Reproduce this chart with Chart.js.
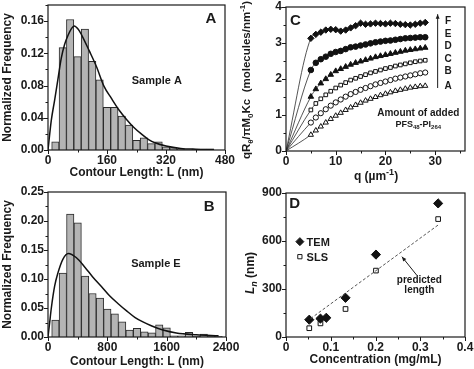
<!DOCTYPE html>
<html>
<head>
<meta charset="utf-8">
<script src="https://cdn.jsdelivr.net/npm/chart.js@4.4.1/dist/chart.umd.min.js"></script>
<style>
  html, body { margin: 0; padding: 0; background: #fff; }
  #wrap { position: relative; width: 474px; height: 369px; overflow: hidden; }
  canvas { position: absolute; }
</style>
</head>
<body>
<div id="wrap">
  <canvas id="chartA" width="250" height="185" style="left:0;top:0"></canvas>
  <canvas id="chartB" width="250" height="184" style="left:0;top:185px"></canvas>
  <canvas id="chartC" width="237" height="185" style="left:237px;top:0"></canvas>
  <canvas id="chartD" width="237" height="184" style="left:237px;top:185px"></canvas>
</div>
<script>
// Panel A: contour length histogram, sample A (20 nm bins)
const binsA = [20, 40, 60, 80, 100, 120, 140, 160, 180, 200, 220, 240, 260, 280, 300, 320, 340, 360, 380, 400, 420, 440];
const freqA = [0.010, 0.127, 0.162, 0.116, 0.150, 0.110, 0.087, 0.053, 0.053, 0.042, 0.031, 0.012, 0.015, 0.008, 0.010, 0.004, 0.003, 0.001, 0.000, 0.001, 0.001, 0.001];
const fitAx = [0, 9, 18, 28, 36, 45, 55, 64, 71, 82, 91, 112, 131, 152, 172, 192, 213, 233, 253, 273, 290, 320, 360, 400, 450];
const fitAy = [0, 0.037, 0.062, 0.091, 0.114, 0.131, 0.143, 0.151, 0.154, 0.150, 0.143, 0.123, 0.104, 0.079, 0.064, 0.050, 0.038, 0.028, 0.020, 0.013, 0.009, 0.005, 0.002, 0.001, 0.0005];

// Panel B: contour length histogram, sample E (100 nm bins)
const binsB = [100, 200, 300, 400, 500, 600, 700, 800, 900, 1000, 1100, 1200, 1300, 1400, 1500, 1600, 1700, 1800, 1900, 2000, 2100, 2200, 2300];
const freqB = [0.029, 0.110, 0.212, 0.197, 0.105, 0.075, 0.067, 0.048, 0.040, 0.026, 0.012, 0.015, 0.009, 0.007, 0.021, 0.016, 0.002, 0.002, 0.008, 0.001, 0.005, 0.001, 0.001];
const fitBx = [0, 20, 45, 90, 135, 200, 275, 380, 500, 600, 720, 830, 950, 1060, 1170, 1280, 1400, 1550, 1730, 2000, 2300];
const fitBy = [0, 0.022, 0.050, 0.088, 0.111, 0.134, 0.144, 0.137, 0.120, 0.104, 0.087, 0.071, 0.057, 0.045, 0.034, 0.026, 0.019, 0.012, 0.007, 0.004, 0.002];

// Panel C: light scattering, samples A-F
const qValues = [5, 6, 7, 8, 9, 10, 11, 12, 13, 14, 15, 16, 17, 18, 19, 20, 21, 22, 23, 24, 25, 26, 27, 28];
const scatF = [3.13, 3.24, 3.30, 3.36, 3.38, 3.37, 3.33, 3.36, 3.42, 3.48, 3.55, 3.52, 3.53, 3.55, 3.54, 3.53, 3.55, 3.54, 3.52, 3.51, 3.50, 3.52, 3.55, 3.57];
const scatE = [2.25, 2.45, 2.55, 2.62, 2.70, 2.75, 2.78, 2.83, 2.88, 2.90, 2.93, 2.96, 2.99, 3.02, 3.04, 3.06, 3.07, 3.09, 3.11, 3.13, 3.14, 3.15, 3.16, 3.16];
const scatD = [1.51, 1.72, 1.88, 2.00, 2.12, 2.22, 2.28, 2.34, 2.40, 2.45, 2.49, 2.53, 2.57, 2.61, 2.64, 2.67, 2.70, 2.73, 2.76, 2.79, 2.81, 2.83, 2.85, 2.87];
const scatC = [1.14, 1.32, 1.45, 1.56, 1.66, 1.75, 1.83, 1.90, 1.97, 2.02, 2.07, 2.12, 2.17, 2.21, 2.25, 2.29, 2.32, 2.36, 2.39, 2.42, 2.45, 2.48, 2.50, 2.52];
const scatB = [0.79, 0.93, 1.05, 1.16, 1.26, 1.35, 1.43, 1.51, 1.58, 1.64, 1.70, 1.75, 1.80, 1.85, 1.89, 1.93, 1.97, 2.01, 2.04, 2.07, 2.10, 2.13, 2.16, 2.18];
const scatA = [0.45, 0.57, 0.68, 0.79, 0.89, 0.98, 1.06, 1.14, 1.21, 1.28, 1.34, 1.40, 1.45, 1.50, 1.55, 1.59, 1.63, 1.67, 1.70, 1.73, 1.76, 1.78, 1.80, 1.81];

// Panel D: length vs concentration
const concTEM = [0.052, 0.077, 0.090, 0.133, 0.201, 0.340];
const lenTEM = [108, 115, 120, 245, 515, 835];
const concSLS = [0.052, 0.077, 0.133, 0.201, 0.340];
const lenSLS = [55, 85, 175, 415, 737];
const predConc = [0.055, 0.340];
const predLen = [115, 700];

const FONT = "'Liberation Sans', Arial, Helvetica, sans-serif";
Chart.defaults.font.family = FONT;
Chart.defaults.font.size = 12;
Chart.defaults.font.weight = 'bold';
Chart.defaults.color = '#1a1a1a';
Chart.defaults.animation = false;

const pts = (xs, ys) => xs.map((x, i) => ({ x, y: ys[i] }));

function isMultiple(v, step) {
  const r = v / step;
  return Math.abs(r - Math.round(r)) < 1e-6;
}

function axis(min, max, step, major, fmt, size, horizontal) {
  return {
    type: 'linear', min, max, offset: false,
    afterFit: s => {
      if (horizontal) s.height = size; else s.width = size;
      s.paddingLeft = s.paddingRight = s.paddingTop = s.paddingBottom = 0;
    },
    grid: { display: false, drawTicks: false, offset: false },
    border: { display: false },
    ticks: {
      stepSize: step, autoSkip: false, maxRotation: 0, includeBounds: false,
      padding: horizontal ? 3 : 4,
      callback: v => isMultiple(v, major) ? fmt(v) : ''
    }
  };
}

function title(text) {
  return { display: true, text, padding: 0, font: { size: 12, weight: 'bold' } };
}

// box round the plot plus outward tick marks, long on labelled values
const framePlugin = {
  id: 'frame',
  afterDatasetsDraw(chart, args, opts) {
    const { ctx, chartArea: a, scales: { x, y } } = chart;
    ctx.save();
    ctx.strokeStyle = '#1a1a1a';
    ctx.lineWidth = 1.2;
    ctx.strokeRect(a.left, a.top, a.right - a.left, a.bottom - a.top);
    ctx.lineWidth = 1;
    ctx.beginPath();
    x.ticks.forEach(t => {
      const p = Math.round(x.getPixelForValue(t.value)) + 0.5;
      const len = isMultiple(t.value, opts.xMajor) ? 4 : 2.5;
      ctx.moveTo(p, a.bottom); ctx.lineTo(p, a.bottom + len);
    });
    y.ticks.forEach(t => {
      const p = Math.round(y.getPixelForValue(t.value)) + 0.5;
      const len = isMultiple(t.value, opts.yMajor) ? 4 : 2.5;
      ctx.moveTo(a.left, p); ctx.lineTo(a.left - len, p);
    });
    ctx.stroke();
    ctx.restore();
  }
};

function drawRich(ctx, x, y, parts, size, rotate, align) {
  const fontFor = p => (p.italic ? 'italic ' : '') + 'bold ' +
    ((p.sub || p.sup) ? Math.round(size * 0.72) : size) + 'px ' + FONT;
  const widths = parts.map(p => { ctx.font = fontFor(p); return ctx.measureText(p.t).width; });
  const total = widths.reduce((s, w) => s + w, 0);
  ctx.translate(x, y);
  if (rotate) ctx.rotate(rotate);
  ctx.textAlign = 'left';
  ctx.textBaseline = 'alphabetic';
  let cx = align === 'left' ? 0 : -total / 2;
  parts.forEach((p, i) => {
    ctx.font = fontFor(p);
    let dy = size * 0.36;
    if (p.sub) dy += size * 0.25;
    if (p.sup) dy -= size * 0.42;
    ctx.fillText(p.t, cx, dy);
    cx += widths[i];
  });
}

// labels, arrows and legend marks; x/y in data units unless px is set
const textPlugin = {
  id: 'panelText',
  afterDraw(chart, args, opts) {
    const { ctx, scales: { x: xs, y: ys } } = chart;
    const at = (px, x, y) => px ? [x, y] : [xs.getPixelForValue(x), ys.getPixelForValue(y)];
    (opts.items || []).forEach(it => {
      ctx.save();
      ctx.fillStyle = '#1a1a1a';
      ctx.strokeStyle = '#1a1a1a';
      if (it.arrow) {
        const [x1, y1] = at(it.px, it.arrow[0], it.arrow[1]);
        const [x2, y2] = at(it.px, it.arrow[2], it.arrow[3]);
        const ang = Math.atan2(y2 - y1, x2 - x1);
        ctx.lineWidth = 1;
        ctx.beginPath();
        ctx.moveTo(x1, y1); ctx.lineTo(x2, y2);
        ctx.stroke();
        ctx.beginPath();
        ctx.moveTo(x2, y2);
        ctx.lineTo(x2 - 5 * Math.cos(ang - 0.4), y2 - 5 * Math.sin(ang - 0.4));
        ctx.lineTo(x2 - 5 * Math.cos(ang + 0.4), y2 - 5 * Math.sin(ang + 0.4));
        ctx.closePath();
        ctx.fill();
      } else if (it.marker) {
        const [px, py] = at(it.px, it.x, it.y);
        ctx.fillStyle = it.open ? '#fff' : '#1a1a1a';
        ctx.lineWidth = 1;
        Chart.helpers.drawPoint(ctx, { pointStyle: it.marker, radius: it.r, borderWidth: 1, rotation: 0 }, px, py);
      } else {
        const [px, py] = at(it.px, it.x, it.y);
        drawRich(ctx, px, py, it.parts || [{ t: it.text }], it.size || 11, it.rotate, it.align);
      }
      ctx.restore();
    });
  }
};

function histogram(id, bins, freq, fitX, fitY, xAxis, yAxis, pad, items) {
  return new Chart(document.getElementById(id), {
    type: 'bar',
    data: {
      datasets: [
        {
          type: 'line', data: pts(fitX, fitY), order: 0,
          borderColor: '#111', borderWidth: 1.5, pointRadius: 0,
          cubicInterpolationMode: 'monotone'
        },
        {
          type: 'bar', data: pts(bins, freq), order: 1,
          backgroundColor: '#b4b4b4', borderColor: '#2b2b2b', borderWidth: 1,
          barPercentage: 1, categoryPercentage: 1
        }
      ]
    },
    options: {
      responsive: false,
      layout: { padding: pad },
      plugins: {
        legend: { display: false }, tooltip: { enabled: false },
        frame: { xMajor: xAxis.major, yMajor: yAxis.major },
        panelText: { items }
      },
      scales: {
        x: Object.assign(axis(0, xAxis.max, xAxis.step, xAxis.major, v => String(v), xAxis.size, true),
          { title: title('Contour Length: L (nm)') }),
        y: Object.assign(axis(0, yAxis.max, yAxis.step, yAxis.major, v => v.toFixed(2), 48, false),
          { title: title('Normalized Frequency') })
      }
    },
    plugins: [framePlugin, textPlugin]
  });
}

histogram('chartA', binsA, freqA, fitAx, fitAy,
  { max: 480, step: 80, major: 160, size: 30 },
  { max: 0.18, step: 0.02, major: 0.04 },
  { left: 0, top: 5, right: 25, bottom: 5 },
  [
    { text: 'Sample A', x: 295, y: 0.087, size: 11 },
    { text: 'A', x: 442, y: 0.164, size: 15 }
  ]);

histogram('chartB', binsB, freqB, fitBx, fitBy,
  { max: 2400, step: 400, major: 800, size: 32 },
  { max: 0.25, step: 0.025, major: 0.05 },
  { left: 0, top: 7, right: 24, bottom: 0 },
  [
    { text: 'Sample E', x: 1455, y: 0.128, size: 11 },
    { text: 'B', x: 2172, y: 0.226, size: 15 }
  ]);

// Panel C
const styleC = [
  { vals: scatF, style: 'rectRot', r: 3.2, open: false },
  { vals: scatE, style: 'circle', r: 2.8, open: false },
  { vals: scatD, style: 'triangle', r: 3.2, open: false },
  { vals: scatC, style: 'rect', r: 2.6, open: true },
  { vals: scatB, style: 'circle', r: 2.6, open: true },
  { vals: scatA, style: 'triangle', r: 3.0, open: true }
];

new Chart(document.getElementById('chartC'), {
  type: 'line',
  data: {
    datasets: styleC.map(s => ({
      data: [{ x: 0, y: 0 }].concat(pts(qValues, s.vals)),
      borderColor: '#2a2a2a', borderWidth: 0.8,
      cubicInterpolationMode: 'monotone',
      pointStyle: s.style,
      pointRadius: c => c.dataIndex === 0 ? 0 : s.r,
      pointBackgroundColor: s.open ? '#fff' : '#111',
      pointBorderColor: '#111', pointBorderWidth: 1
    }))
  },
  options: {
    responsive: false,
    layout: { padding: { left: 0, top: 7, right: 9, bottom: 0 } },
    plugins: {
      legend: { display: false }, tooltip: { enabled: false },
      frame: { xMajor: 10, yMajor: 1 },
      panelText: {
        items: [
          { text: 'C', x: 1.9, y: 3.66, size: 15 },
          { arrow: [30.5, 1.75, 30.5, 3.8] },
          { text: 'F', x: 32.6, y: 3.64, size: 10 },
          { text: 'E', x: 32.6, y: 3.26, size: 10 },
          { text: 'D', x: 32.6, y: 2.93, size: 10 },
          { text: 'C', x: 32.6, y: 2.57, size: 10 },
          { text: 'B', x: 32.6, y: 2.25, size: 10 },
          { text: 'A', x: 32.6, y: 1.81, size: 10 },
          { text: 'Amount of added', x: 26.6, y: 1.06, size: 10 },
          { parts: [{ t: 'PFS' }, { t: '48', sub: true }, { t: '-PI' }, { t: '264', sub: true }], x: 26.6, y: 0.76, size: 9 },
          { px: true, x: 8.5, y: 80, size: 11.5, rotate: -Math.PI / 2,
            parts: [{ t: 'qR' }, { t: 'θ', sub: true }, { t: '/πM' }, { t: '0', sub: true },
                    { t: 'Kc  (molecules/nm' }, { t: '-1', sup: true }, { t: ')' }] },
          { px: true, x: 139, y: 176, size: 12,
            parts: [{ t: 'q (µm' }, { t: '-1', sup: true }, { t: ')' }] }
        ]
      }
    },
    scales: {
      x: axis(0, 36, 5, 10, v => String(v), 34, true),
      y: axis(0, 4, 0.5, 1, v => String(v), 49, false)
    }
  },
  plugins: [framePlugin, textPlugin]
});

// Panel D
new Chart(document.getElementById('chartD'), {
  type: 'scatter',
  data: {
    datasets: [
      {
        type: 'line', data: pts(predConc, predLen),
        borderColor: '#555', borderWidth: 1, borderDash: [3, 2], pointRadius: 0
      },
      {
        data: pts(concTEM, lenTEM), pointStyle: 'rectRot', pointRadius: 4.6,
        pointBackgroundColor: '#111', pointBorderColor: '#111'
      },
      {
        data: pts(concSLS, lenSLS), pointStyle: 'rect', pointRadius: 3.3,
        pointBackgroundColor: '#fff', pointBorderColor: '#111', pointBorderWidth: 1
      }
    ]
  },
  options: {
    responsive: false,
    layout: { padding: { left: 0, top: 8, right: 9, bottom: 2 } },
    plugins: {
      legend: { display: false }, tooltip: { enabled: false },
      frame: { xMajor: 0.1, yMajor: 300 },
      panelText: {
        items: [
          { text: 'D', x: 0.0195, y: 842, size: 15 },
          { marker: 'rectRot', r: 4, x: 0.031, y: 596 },
          { text: 'TEM', x: 0.046, y: 596, size: 11, align: 'left' },
          { marker: 'rect', r: 3, open: true, x: 0.031, y: 502 },
          { text: 'SLS', x: 0.046, y: 502, size: 11, align: 'left' },
          { arrow: [0.292, 387, 0.259, 502] },
          { text: 'predicted', x: 0.298, y: 360, size: 10 },
          { text: 'length', x: 0.298, y: 297, size: 10 },
          { px: true, x: 13, y: 88, size: 12, rotate: -Math.PI / 2,
            parts: [{ t: 'L', italic: true }, { t: 'n', italic: true, sub: true }, { t: ' (nm)' }] }
        ]
      }
    },
    scales: {
      x: Object.assign(axis(0, 0.4, 0.05, 0.1, v => v === 0 ? '0' : v.toFixed(1), 30, true),
        { title: title('Concentration (mg/mL)') }),
      y: axis(0, 900, 150, 300, v => String(v), 49, false)
    }
  },
  plugins: [framePlugin, textPlugin]
});
</script>
</body>
</html>
